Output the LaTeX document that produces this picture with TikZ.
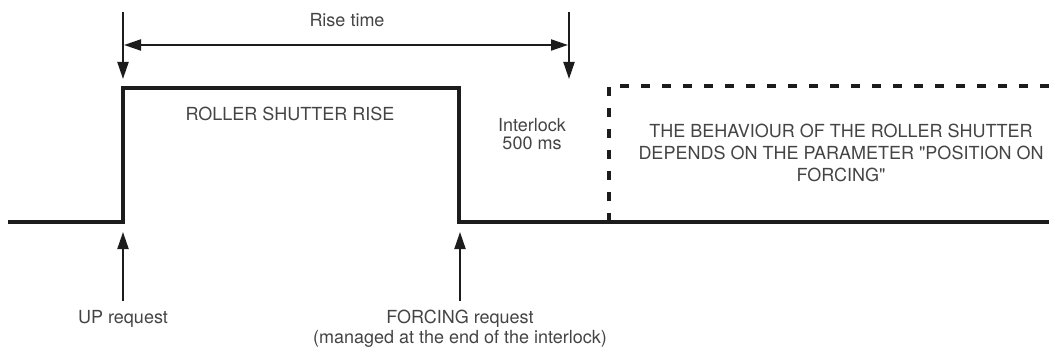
\documentclass[tikz,border=0pt]{standalone}
\usepackage{fontspec}
\setmainfont{TeX Gyre Heros}
\usetikzlibrary{arrows.meta}
\definecolor{ink}{HTML}{1C1C1C}
\definecolor{txt}{HTML}{444444}
\tikzset{
  signal/.style={draw=ink, line width=4pt, line join=miter},
  dashsignal/.style={draw=ink, line width=4pt, dash pattern=on 9pt off 12pt},
  marker/.style={draw=ink, line width=2pt, -{Triangle[length=17pt,width=11pt]}},
  span/.style={draw=ink, line width=2pt, {Triangle[length=17pt,width=11pt]}-{Triangle[length=17pt,width=11pt]}},
  lbl/.style={text=txt, font=\fontsize{18}{20}\selectfont, align=center, inner sep=0pt},
}
\begin{document}
\begin{tikzpicture}[x=1pt,y=-1pt]
\useasboundingbox (0,0) rectangle (1049,358);
% signal points
\coordinate (s0) at (8,222);
\coordinate (s1) at (123,222);
\coordinate (s2) at (123,88);
\coordinate (s3) at (459,88);
\coordinate (s4) at (459,222);
\coordinate (s5) at (1049,222);
\draw[signal] (s0) -- (s1) -- (s2) -- (s3) -- (s4) -- (s5);
% dashed following behaviour
\coordinate (d0) at (1049,86);
\coordinate (d1) at (609,86);
\coordinate (d2) at (609,222);
\draw[dashsignal] (d0) -- (d1) -- (d2);
% rise time markers
\coordinate (m1a) at (123,12);
\coordinate (m1b) at (123,79);
\coordinate (m2a) at (569,12);
\coordinate (m2b) at (569,79);
\draw[marker] (m1a) -- (m1b);
\draw[marker] (m2a) -- (m2b);
\coordinate (r1) at (124,45);
\coordinate (r2) at (568,45);
\draw[span] (r1) -- (r2);
\node[lbl] (rise) at (347,20) {Rise time};
% request arrows
\coordinate (u1) at (123,301);
\coordinate (u2) at (123,232);
\coordinate (f1) at (460,301);
\coordinate (f2) at (460,232);
\draw[marker] (u1) -- (u2);
\draw[marker] (f1) -- (f2);
\node[lbl, anchor=north] (up) at (123,310) {UP request};
\node[lbl, anchor=north] (forcing) at (460,310) {FORCING request\\(managed at the end of the interlock)};
% labels
\node[lbl] (rsr) at (290,114) {ROLLER SHUTTER RISE};
\node[lbl, font=\fontsize{18}{18}\selectfont] (inter) at (532,134) {Interlock\\500 ms};
\node[lbl, font=\fontsize{18}{22}\selectfont] (beh) at (841,153) {THE BEHAVIOUR OF THE ROLLER SHUTTER\\DEPENDS ON THE PARAMETER \textquotedbl POSITION ON\\FORCING\textquotedbl};
\end{tikzpicture}
\end{document}
